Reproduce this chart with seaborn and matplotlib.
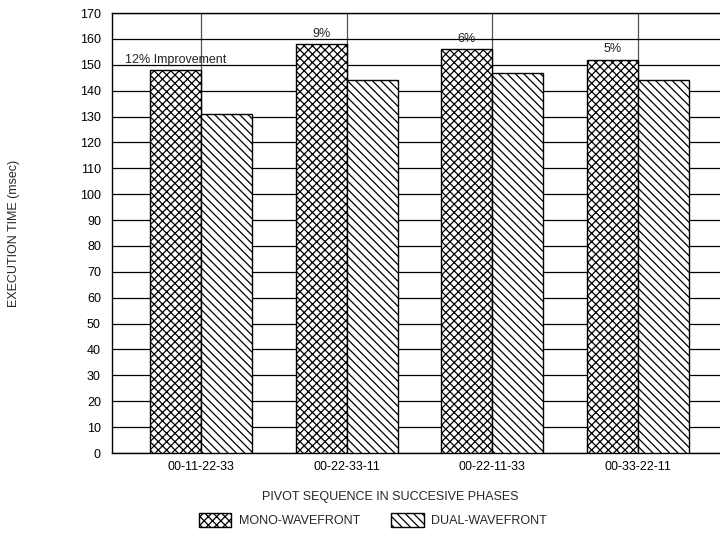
import pandas as pd
import matplotlib
matplotlib.use('Agg')
import matplotlib.pyplot as plt
import seaborn as sns
from matplotlib.patches import Patch

# ===== DATA =====
sequences = ['00-11-22-33', '00-22-33-11', '00-22-11-33', '00-33-22-11']
mono = [148, 158, 156, 152]
dual = [131, 144, 147, 144]
improvements = ['12% Improvement', '9%', '6%', '5%']
series = ['MONO-WAVEFRONT', 'DUAL-WAVEFRONT']

df = pd.DataFrame({
    'seq': sequences * 2,
    'time': mono + dual,
    'kind': [series[0]] * 4 + [series[1]] * 4,
})

# ===== STYLE =====
sns.set_style('white')
plt.rcParams['font.family'] = ['Liberation Sans', 'DejaVu Sans']
plt.rcParams['hatch.linewidth'] = 0.9
hatches = ['xxxx', '\\\\\\\\']

fig = plt.figure(figsize=(7.2, 5.33), dpi=100)
ax = fig.add_axes([112 / 720, 80 / 533, 615 / 720, 440 / 533])

sns.barplot(data=df, x='seq', y='time', hue='kind', order=sequences,
            hue_order=series, width=0.7, ax=ax, legend=False,
            edgecolor='black', linewidth=1.0, zorder=3)

for cont, h in zip(ax.containers, hatches):
    for bar in cont:
        bar.set_facecolor('white')
        bar.set_hatch(h)
        bar.set_edgecolor('black')

# ===== LABELS ON MONO BARS =====
for bar, txt in zip(ax.containers[0], improvements):
    ax.annotate(txt, (bar.get_x() + bar.get_width() / 2, bar.get_height()),
                xytext=(0, 3), textcoords='offset points',
                ha='center', va='bottom', fontsize=9, color='#222222', zorder=4)

# ===== AXES =====
ax.set_xlim(-0.61, 3.61)
ax.set_ylim(0, 170)
ax.set_yticks(range(0, 171, 10))
ax.grid(axis='y', color='black', linewidth=0.9)
ax.grid(axis='x', color='#555555', linewidth=0.9)
ax.set_axisbelow(True)
for s in ax.spines.values():
    s.set_color('black')
    s.set_linewidth(1.0)
ax.tick_params(axis='both', length=0, labelsize=9, colors='black')
ax.tick_params(axis='y', pad=8)
ax.tick_params(axis='x', pad=6)

ax.set_ylabel('EXECUTION TIME (msec)', fontsize=9)
ax.yaxis.set_label_coords(-0.15, 0.5)
ax.set_xlabel('PIVOT SEQUENCE IN SUCCESIVE PHASES', fontsize=9)
ax.xaxis.set_label_coords(0.452, -0.087)

handles = [Patch(facecolor='white', edgecolor='black', hatch=h, label=s)
           for h, s in zip(hatches, series)]
fig.legend(handles=handles, loc='center', bbox_to_anchor=(0.518, 1 - 520 / 533),
           ncol=2, frameon=False, fontsize=9, handlelength=2.6, handleheight=1.3,
           columnspacing=2.5, handletextpad=0.6)

fig.savefig('out.png', dpi=100)
